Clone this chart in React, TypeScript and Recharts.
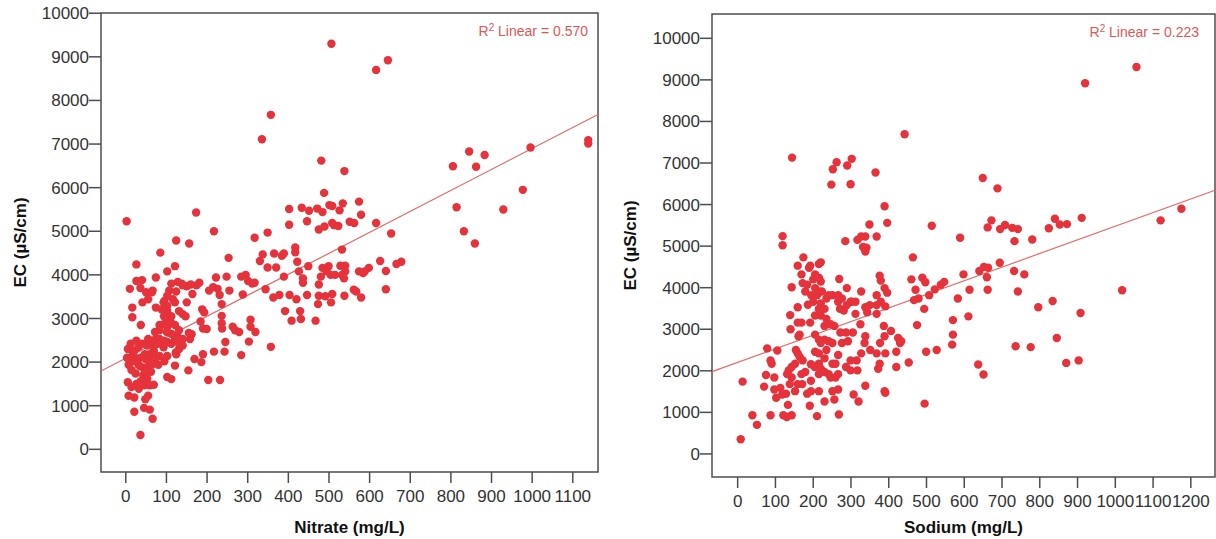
import {
  ScatterChart,
  Scatter,
  XAxis,
  YAxis,
  ReferenceArea,
  ReferenceLine,
} from "recharts";

const ecTicks = [0, 1000, 2000, 3000, 4000, 5000, 6000, 7000, 8000, 9000, 10000];
const nitrateTicks = [0, 100, 200, 300, 400, 500, 600, 700, 800, 900, 1000, 1100];
const sodiumTicks = [0, 100, 200, 300, 400, 500, 600, 700, 800, 900, 1000, 1100, 1200];

// [nitrate mg/L, EC µS/cm]
const nitrateEc: [number, number][] = [
  [506, 9300], [616, 8700], [645, 8920], [357, 7670], [335, 7110], [481, 6620], [538, 6380], [488, 5880],
  [805, 6490], [845, 6830], [862, 6480], [883, 6750], [996, 6920], [1138, 7090], [1138, 7010], [977, 5950],
  [929, 5500], [814, 5550], [832, 5000], [859, 4720], [653, 4950], [616, 5190], [678, 4300], [666, 4250],
  [640, 4090], [640, 3670], [626, 4320],
  [402, 5510], [402, 5150], [433, 5540], [451, 5470], [446, 5230], [471, 5520], [484, 5440], [501, 5600],
  [508, 5580], [534, 5640], [526, 5480], [574, 5680], [579, 5380], [551, 5220], [562, 5190], [475, 5040],
  [489, 5110], [508, 5190], [523, 5120], [532, 4580], [513, 5140],
  [317, 4850], [349, 4970], [330, 4320], [337, 4470], [349, 4170], [365, 4490], [370, 4170], [384, 4440],
  [389, 4490], [417, 4630], [417, 4520], [422, 4300], [426, 4080], [449, 4200], [344, 3670], [363, 3480],
  [378, 3540], [389, 3960], [403, 3540], [420, 3440], [436, 3820], [436, 3920], [446, 3540], [392, 3170],
  [408, 2950], [429, 3170], [431, 2990], [467, 2950], [475, 3520], [473, 3330], [475, 3780], [480, 3960],
  [484, 4160], [494, 4080], [499, 4200], [504, 4000], [508, 3560], [505, 3370], [491, 3510], [532, 4000],
  [540, 4210], [540, 4080], [537, 3920], [538, 3520], [561, 3660], [567, 3620], [579, 3480], [574, 4080],
  [584, 4040], [598, 4160], [588, 4080], [528, 4210], [515, 4000],
  [217, 5000], [173, 5430], [156, 4720], [124, 4790], [85, 4510], [121, 4200], [102, 4080], [253, 4390],
  [248, 3960], [222, 3940], [215, 3720], [205, 3640], [226, 3680], [231, 3540], [236, 3330], [255, 3640],
  [236, 3060], [284, 3960], [295, 4000], [301, 3860], [311, 3800], [317, 3820], [288, 3550], [307, 2970],
  [307, 2810], [319, 2690], [303, 2470], [284, 2160], [263, 2810], [269, 2730], [279, 2690], [236, 2890],
  [237, 2770], [245, 2460], [243, 2240], [217, 2240], [203, 1590], [232, 1590], [186, 2000], [190, 2180],
  [169, 2070], [154, 1810], [188, 3210], [193, 3140], [184, 2930], [190, 2770], [199, 2760], [162, 2640],
  [158, 2530], [174, 3760], [181, 3820], [160, 3780], [150, 3740], [164, 3560], [150, 3370], [140, 3100],
  [147, 3050], [138, 3800], [112, 3800], [107, 3640], [116, 3440], [74, 3940], [102, 3170], [98, 3290],
  [74, 3250], [94, 3050], [102, 2970], [357, 2350],
  [2, 5230], [10, 3680], [26, 3860], [40, 3880], [36, 3700], [50, 3600], [64, 3600], [55, 3440],
  [41, 3370], [16, 3250], [16, 3030], [37, 2850], [26, 4240], [66, 3640], [88, 3210], [93, 2870],
  [83, 2850], [102, 2810], [112, 2890], [121, 2850], [131, 2730], [126, 2610], [136, 2490], [140, 2380],
  [131, 2300], [123, 2220], [112, 2420], [102, 2460], [93, 2490], [83, 2530], [74, 2530], [64, 2490],
  [55, 2530], [93, 2340], [102, 2140], [95, 2020], [80, 1940], [69, 2260], [59, 2180], [50, 2060],
  [36, 2100], [26, 2060], [16, 2020], [7, 1940], [3, 2100], [5, 2300], [21, 2260], [31, 2340],
  [41, 2420], [26, 2490], [14, 1820], [24, 1740], [36, 1900], [45, 1860], [56, 1900], [69, 2060],
  [43, 1700], [53, 1620], [37, 1560], [26, 1500], [5, 1540], [14, 1430], [7, 1230], [21, 1190],
  [32, 1390], [45, 1470], [59, 1470], [69, 1480], [55, 1230], [48, 1150], [45, 950], [59, 910],
  [21, 860], [66, 700], [36, 330], [102, 1660], [112, 1610], [121, 1920], [124, 2180], [131, 2420],
  [140, 2530], [155, 2670], [121, 2530], [112, 2650], [101, 2690], [83, 2730], [72, 2690], [78, 2420],
  [69, 2380], [53, 2380], [74, 2100], [83, 2140], [62, 1780], [50, 1780], [12, 2420], [18, 2180],
  [31, 1940], [47, 2180], [64, 1940],
  [128, 3840], [140, 3760], [124, 3620], [102, 3520], [95, 3400], [121, 3370], [131, 3170], [112, 3050],
  [93, 3370], [102, 3290],
];

// [sodium mg/L, EC µS/cm]
const sodiumEc: [number, number][] = [
  [1056, 9310], [920, 8920], [442, 7690], [144, 7130], [262, 7020], [252, 6850], [290, 6940], [302, 7100],
  [248, 6480], [299, 6490], [365, 6770], [649, 6640], [688, 6390], [389, 5960], [396, 5560], [349, 5520],
  [368, 5230], [317, 5150], [327, 5230], [338, 5230], [332, 4980], [341, 4960], [338, 4870], [285, 5120],
  [119, 5240], [119, 5020], [514, 5490], [589, 5200], [464, 4730], [662, 5450], [672, 5620], [695, 5410],
  [708, 5510], [727, 5440], [742, 5410], [733, 5120], [780, 5160], [824, 5430], [840, 5660], [853, 5520],
  [872, 5530], [911, 5680], [1120, 5620], [1175, 5900], [694, 4600], [652, 4500], [640, 4400], [663, 4480],
  [660, 4250], [732, 4400], [759, 4320], [598, 4320], [614, 3950], [662, 3950], [742, 3910], [583, 3740],
  [611, 3310], [570, 3220], [570, 2870], [568, 2630], [796, 3530], [834, 3680], [845, 2790], [736, 2590],
  [776, 2570], [870, 2190], [903, 2250], [908, 3390], [1018, 3940], [637, 2150], [651, 1910], [495, 1210],
  [499, 2460], [527, 2500], [453, 2200], [475, 3100], [494, 3490], [479, 3740], [467, 3700], [460, 4200],
  [489, 4240], [497, 4130], [507, 3820], [522, 3960], [538, 4070], [547, 4140], [471, 3950],
  [376, 4290], [379, 4170], [389, 3990], [396, 3880], [368, 3820], [379, 3660], [391, 3550], [368, 3370],
  [368, 3580], [350, 3580], [338, 3530], [343, 3410], [327, 3910], [387, 3080], [406, 2960], [389, 2830],
  [377, 2670], [368, 2420], [391, 2420], [425, 2790], [430, 2670], [420, 2460], [433, 2710], [420, 2090],
  [376, 2170], [372, 2050], [389, 1510], [391, 1470], [338, 1640], [320, 1260], [307, 1430], [351, 2500],
  [336, 2670], [338, 2830], [325, 3120], [312, 3370], [299, 3660], [289, 3990], [269, 4210], [327, 2420],
  [315, 2250], [299, 2250], [287, 2090], [299, 2010], [317, 2010], [276, 2670], [292, 2710], [305, 2920],
  [287, 2920], [272, 2920], [266, 2380], [259, 2170], [266, 1920], [259, 1840], [246, 1840], [251, 1510],
  [266, 1550], [256, 1310], [268, 950], [230, 1260], [215, 1510], [194, 1510], [184, 1450], [191, 1160],
  [210, 910], [152, 1510], [159, 1680], [171, 1680], [133, 1180], [143, 930], [130, 890], [121, 930],
  [87, 930], [51, 700], [39, 930], [8, 355], [13, 1740], [70, 1620], [75, 1900], [90, 2170],
  [87, 2250], [78, 2540], [105, 2490], [97, 1840], [97, 1550], [102, 1350], [113, 1590], [118, 1430],
  [128, 1450], [131, 1920], [135, 2010], [143, 2090], [138, 1680], [143, 1840], [152, 2170], [159, 2420],
  [164, 2340], [172, 2250], [179, 1970], [169, 1920], [154, 2500], [161, 2830], [164, 2870], [140, 3000],
  [139, 3340], [159, 3160], [169, 3160], [192, 3160], [159, 3530], [143, 4010], [159, 4530], [174, 4730],
  [169, 4320], [172, 4110], [184, 4070], [179, 3910], [189, 4480], [192, 4530], [215, 4570], [220, 4610],
  [200, 4200], [205, 4320], [215, 4240], [220, 4150], [205, 3990], [210, 3820], [195, 3820], [215, 3910],
  [223, 3910], [200, 3660], [186, 3590], [220, 3620], [230, 3490], [215, 3490], [205, 3330], [220, 3330],
  [235, 3250], [230, 3080], [246, 3120], [256, 3080], [251, 3820], [235, 3740], [241, 3820], [266, 3660],
  [271, 3490], [281, 3450], [289, 3580], [302, 3660], [312, 3660], [276, 3740], [266, 3820], [205, 2870],
  [215, 2750], [230, 2750], [220, 2670], [241, 2710], [251, 2670], [205, 2460], [215, 2420], [235, 2500],
  [230, 2300], [215, 2170], [204, 2090], [220, 2050], [230, 1970], [241, 1920], [215, 1920], [194, 2160],
  [251, 2170], [194, 1760],
];

// fitted line [intercept, slope]
const nitrateFit = [2089, 4.81];
const sodiumFit = [2203, 3.276];
const nitrateR2 = "0.570";
const sodiumR2 = "0.223";

const FONT = '"Liberation Sans", Arial, sans-serif';
const DOT = "#e5323b";
const FIT = "#e26b6b";
const FRAME = "#4d4d4d";

const R2Label = ({ viewBox, value, right, top }: any) => (
  <text
    x={viewBox.x + viewBox.width - right}
    y={viewBox.y + top}
    textAnchor="end"
    fill="#dc5858"
    fontSize={14}
    fontFamily={FONT}
  >
    R<tspan dy={-5} fontSize={10}>2</tspan>
    <tspan dy={5}> Linear = {value}</tspan>
  </text>
);

const XTitle = ({ viewBox, value }: any) => (
  <text
    x={viewBox.x + viewBox.width / 2}
    y={viewBox.y + viewBox.height - 6}
    textAnchor="middle"
    fontSize={17}
    fontWeight="bold"
    fill="#111"
    fontFamily={FONT}
  >
    {value}
  </text>
);

const YTitle = ({ viewBox, cx }: any) => {
  const cy = viewBox.y + viewBox.height / 2;
  return (
    <text
      x={cx}
      y={cy}
      transform={`rotate(-90, ${cx}, ${cy})`}
      textAnchor="middle"
      dominantBaseline="central"
      fontSize={17}
      fontWeight="bold"
      fill="#111"
      fontFamily={FONT}
    >
      EC (µS/cm)
    </text>
  );
};

function Panel({ points, xTicks, xDomain, yDomain, xTitle, fit, r2, r2Right, margin, yWidth, xHeight, titleX }: any) {
  const data = points.map(([x, y]: [number, number]) => ({ x, y }));
  const [a, b] = fit;
  const tickStyle = { fontSize: 17, fill: "#333", fontFamily: FONT };
  return (
    <ScatterChart width={608} height={539} margin={margin}>
      <XAxis
        type="number"
        dataKey="x"
        domain={xDomain}
        allowDataOverflow
        ticks={xTicks}
        interval={0}
        axisLine={false}
        tickLine={{ stroke: FRAME, strokeWidth: 1.5 }}
        tickSize={11}
        tickMargin={7}
        tick={tickStyle}
        height={xHeight}
        label={<XTitle value={xTitle} />}
      />
      <YAxis
        type="number"
        dataKey="y"
        domain={yDomain}
        allowDataOverflow
        ticks={ecTicks}
        interval={0}
        axisLine={false}
        tickLine={{ stroke: FRAME, strokeWidth: 1.5 }}
        tickSize={12}
        tickMargin={0}
        tick={tickStyle}
        width={yWidth}
        label={<YTitle cx={titleX} />}
      />
      <ReferenceArea
        x1={xDomain[0]}
        x2={xDomain[1]}
        y1={yDomain[0]}
        y2={yDomain[1]}
        fill="none"
        stroke={FRAME}
        strokeWidth={1.5}
        ifOverflow="visible"
        label={<R2Label value={r2} right={r2Right} top={23} />}
      />
      <Scatter
        data={data}
        isAnimationActive={false}
        shape={(p: any) => <circle cx={p.cx} cy={p.cy} r={4.2} fill={DOT} />}
      />
      <ReferenceLine
        segment={[
          { x: xDomain[0], y: a + b * xDomain[0] },
          { x: xDomain[1], y: a + b * xDomain[1] },
        ]}
        stroke={FIT}
        strokeWidth={1.2}
        ifOverflow="visible"
      />
    </ScatterChart>
  );
}

export default function App() {
  return (
    <div style={{ position: "absolute", left: 0, top: 0, width: 1216, height: 539, background: "#fff" }}>
      <div style={{ position: "absolute", left: 0, top: 0 }}>
        <Panel
          points={nitrateEc}
          xTicks={nitrateTicks}
          xDomain={[-61, 1162]}
          yDomain={[-520, 10005]}
          xTitle="Nitrate (mg/L)"
          fit={nitrateFit}
          r2={nitrateR2}
          r2Right={10}
          margin={{ top: 13, right: 10, bottom: 0, left: 0 }}
          yWidth={101}
          xHeight={67}
          titleX={20}
        />
      </div>
      <div style={{ position: "absolute", left: 608, top: 0 }}>
        <Panel
          points={sodiumEc}
          xTicks={sodiumTicks}
          xDomain={[-68, 1264]}
          yDomain={[-555, 10585]}
          xTitle="Sodium (mg/L)"
          fit={sodiumFit}
          r2={sodiumR2}
          r2Right={16}
          margin={{ top: 14, right: 1, bottom: 0, left: 0 }}
          yWidth={104}
          xHeight={62}
          titleX={22}
        />
      </div>
    </div>
  );
}
